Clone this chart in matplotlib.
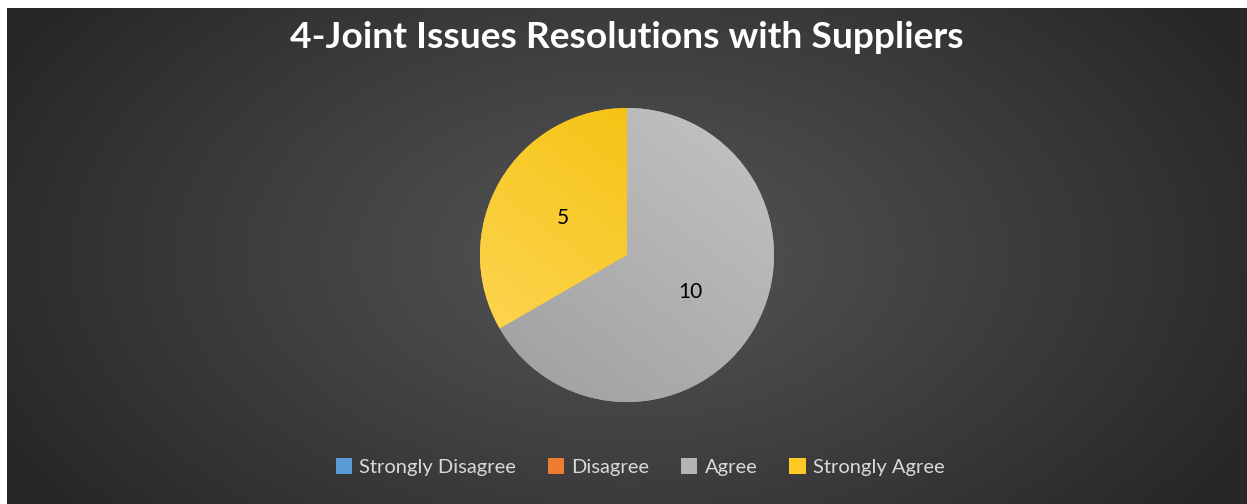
import numpy as np
import matplotlib.pyplot as plt
from matplotlib.patches import Patch

categories = ['Strongly Disagree', 'Disagree', 'Agree', 'Strongly Agree']
values = [0, 0, 10, 5]
colors = ['#5b9bd5', '#ed7d31', '#b4b4b4', '#ffc928']
# gradient ends (light/top-right -> bottom-left)
grad = {2: ('#c4c4c4', '#9e9e9e'), 3: ('#f2bd00', '#ffd95e')}

W, H = 1247, 504
fig = plt.figure(figsize=(W / 100, H / 100), dpi=100, facecolor='white')

# dark radial background
bg = fig.add_axes([7 / W, 0, 1 - 7 / W, 1 - 8 / H])
bg.set_axis_off()
yy, xx = np.mgrid[0:H - 8, 0:W - 7]
cx, cy = 627 - 7, 255 - 8
r = np.sqrt(((xx - cx) / 700.0) ** 2 + ((yy - cy) / 420.0) ** 2)
r = np.clip(r, 0, 1)
c0, c1 = 0x54, 0x27
g = (c0 + (c1 - c0) * r ** 1.1) / 255.0
bg.imshow(np.dstack([g, g, g]), aspect='auto', interpolation='bilinear')

# pie
R = 147
ax = fig.add_axes([(627 - R) / W, (H - 255 - R) / H, 2 * R / W, 2 * R / H])
total = sum(values)
wedges, texts, autotexts = ax.pie(
    values, colors=colors, startangle=90, counterclock=False, radius=1,
    autopct=lambda p: f'{p * total / 100:.0f}' if p > 0 else '',
    pctdistance=0.5, textprops=dict(fontsize=15, color='black', family='Lato'))
ax.set_xlim(-1, 1)
ax.set_ylim(-1, 1)
ax.set_aspect('auto')

gy, gx = np.mgrid[-1:1:200j, -1:1:200j]
t = np.clip(((1 - gx) * 0.6 + (1 - gy) * 0.8) / 2.8, 0, 1)
for i, (ca, cb) in grad.items():
    a = np.array(plt.matplotlib.colors.to_rgb(ca))
    b = np.array(plt.matplotlib.colors.to_rgb(cb))
    img = a[None, None, :] * (1 - t[..., None]) + b[None, None, :] * t[..., None]
    im = ax.imshow(img, extent=[-1, 1, -1, 1], origin='lower', zorder=1.5,
                   interpolation='bilinear')
    im.set_clip_path(wedges[i])
for at in autotexts:
    at.set_zorder(3)

fig.text(627 / W, 1 - 37 / H, '4-Joint Issues Resolutions with Suppliers',
         ha='center', va='center', color='white', fontsize=26.7,
         fontweight='bold', family='Lato')

handles = [Patch(facecolor=c, edgecolor='none') for c in colors]
leg = fig.legend(handles, categories, loc='center', bbox_to_anchor=(640 / W, 1 - 467 / H),
                 ncol=4, frameon=False, handlelength=0.8,
                 handleheight=0.8, handletextpad=0.35, columnspacing=1.6,
                 prop=dict(family='Lato', size=14.5))
for txt in leg.get_texts():
    txt.set_color('#d9d9d9')

fig.savefig('out.png', dpi=100, facecolor='white')
